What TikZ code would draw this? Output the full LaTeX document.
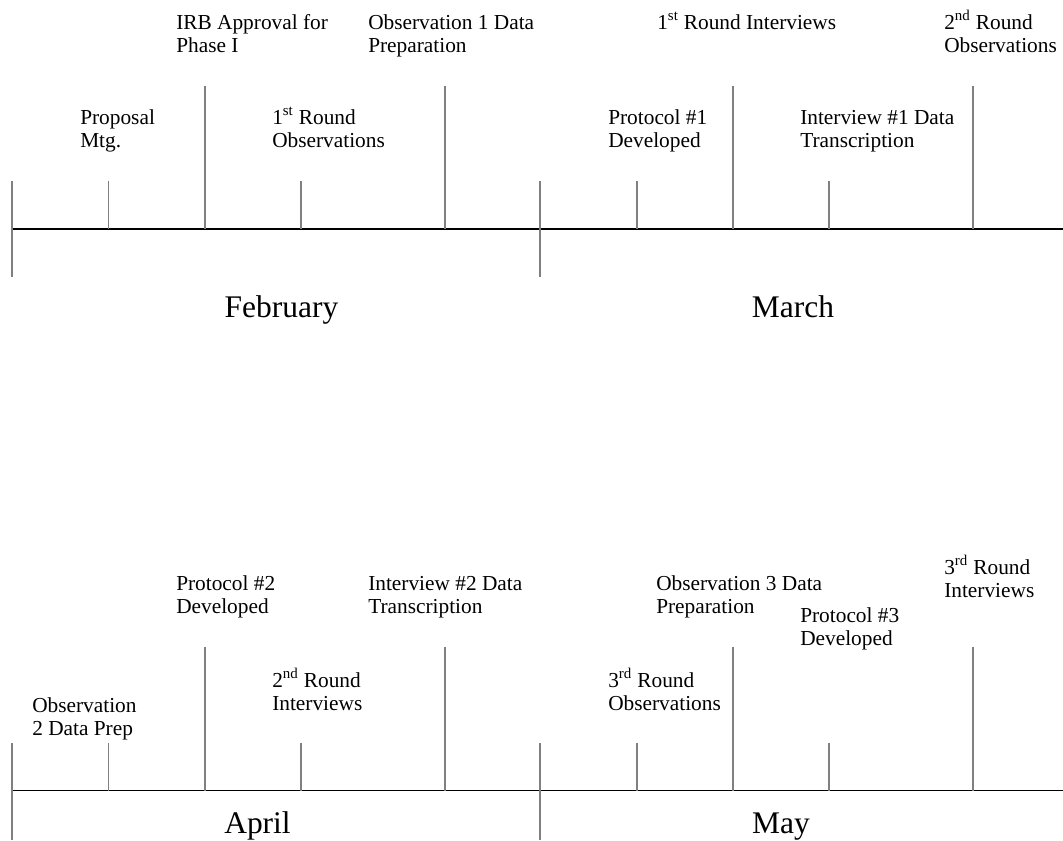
\documentclass[tikz,border=0pt]{standalone}
\usepackage{fontspec}
\setmainfont{Liberation Serif}
\usepackage{xcolor}
\definecolor{tickgray}{HTML}{808080}

\tikzset{
    event/.style={anchor=base west, align=left, inner sep=0pt,
        font=\fontsize{16}{17.25}\selectfont},
    month/.style={anchor=base, inner sep=0pt,
        font=\fontsize{23.6}{27}\selectfont},
    tickline/.style={tickgray, line width=1.4pt},
}

\begin{document}
\begin{tikzpicture}[x=0.75pt, y=-0.75pt]
            \useasboundingbox (0, 0) rectangle (1063, 840);

            % February / March
            \draw[line width=0.9pt] (12, 229) to (1063, 229);
            \foreach \x in {12, 540}
                \draw[tickline] (\x, 181) to (\x, 277);
            \foreach \x in {108.5, 301, 637, 829}
                \draw[tickline] (\x, 181) to (\x, 229);
            \foreach \x in {205, 445, 733, 973}
                \draw[tickline] (\x, 86) to (\x, 229);

            \node (feb) at (281.5, 317) [month] {February};
            \node (mar) at (793, 317) [month] {March};

            % base = last line
            \node (prop) at (80, 147) [event] {Proposal\\Mtg.};
            \node (irb) at (176, 52) [event] {IRB Approval for\\Phase I};
            \node (obs1) at (272, 147) [event] {1\textsuperscript{st} Round\\Observations};
            \node (prep1) at (368, 52) [event] {Observation 1 Data\\Preparation};
            \node (prot1) at (608, 147) [event] {Protocol \#1\\Developed};
            \node (int1) at (657, 29) [event] {1\textsuperscript{st} Round Interviews};
            \node (tran1) at (800, 147) [event] {Interview \#1 Data\\Transcription};
            \node (obs2) at (944, 52) [event] {2\textsuperscript{nd} Round\\Observations};

            % April / May
            \draw[line width=0.9pt] (12, 790.5) to (1063, 790.5);
            \foreach \x in {12, 540}
                \draw[tickline] (\x, 743) to (\x, 840);
            \foreach \x in {108.5, 301, 637, 829}
                \draw[tickline] (\x, 743) to (\x, 790.5);
            \foreach \x in {205, 445, 733, 973}
                \draw[tickline] (\x, 647) to (\x, 790.5);

            \node (apr) at (257.5, 833) [month] {April};
            \node (may) at (781, 833) [month] {May};

            \node (prep2) at (32, 735) [event] {Observation\\2 Data Prep};
            \node (prot2) at (176, 613) [event] {Protocol \#2\\Developed};
            \node (int2) at (272, 710) [event] {2\textsuperscript{nd} Round\\Interviews};
            \node (tran2) at (368, 613) [event] {Interview \#2 Data\\Transcription};
            \node (obs3) at (608, 710) [event] {3\textsuperscript{rd} Round\\Observations};
            \node (prep3) at (656, 613) [event] {Observation 3 Data\\Preparation};
            \node (prot3) at (800, 645) [event] {Protocol \#3\\Developed};
            \node (int3) at (944, 597) [event] {3\textsuperscript{rd} Round\\Interviews};
        \end{tikzpicture}
\end{document}
